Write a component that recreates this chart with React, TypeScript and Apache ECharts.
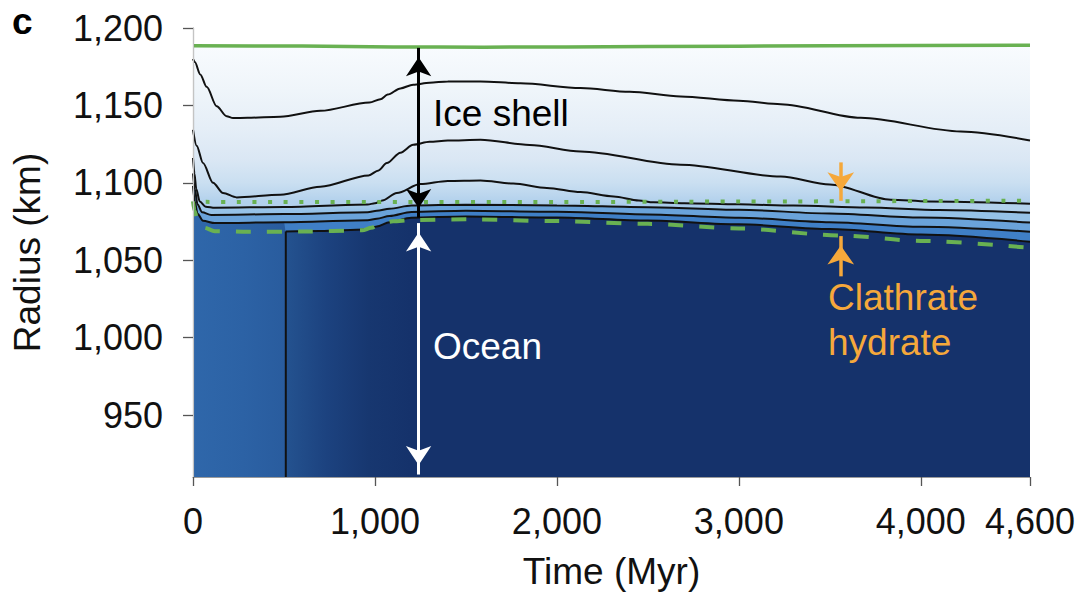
import React, { useEffect, useRef } from "react";
import * as echarts from "echarts";

type Pt = [number, number];

// ---- axes ----
const timeTicks = [0, 1000, 2000, 3000, 4000, 4600];
const radiusTicks = [950, 1000, 1050, 1100, 1150, 1200];
const timeRange: Pt = [0, 4600];
const radiusRange: Pt = [910, 1200];

// ---- model output: [time (Myr), radius (km)] ----
const surfaceRadius: Pt[] = [
  [0, 1188.6], [600, 1188.3], [1100, 1187.7], [1600, 1187.6], [2500, 1188.0],
  [3500, 1188.5], [4600, 1188.9],
];

// isotherms in the ice shell, outermost first
const isotherm1: Pt[] = [
  [0, 1180], [10, 1178], [40, 1170], [75, 1162], [130, 1149.5], [185, 1143],
  [220, 1141.8], [300, 1142], [480, 1142.7], [700, 1146.5], [970, 1151.9],
  [1030, 1154], [1070, 1157], [1140, 1161], [1210, 1163.4], [1300, 1164.7],
  [1400, 1165.4], [1580, 1165.5], [1800, 1164.3], [2130, 1161.2], [2400, 1158.8],
  [2680, 1155.8], [3000, 1153], [3230, 1150.8], [3670, 1142], [4220, 1133.2],
  [4600, 1127.4],
];
const isotherm2: Pt[] = [
  [0, 1134.3], [20, 1124], [55, 1112.8], [110, 1100], [165, 1093.4], [240, 1090.6],
  [480, 1092.3], [700, 1097.5], [965, 1104.8], [1020, 1108], [1065, 1112.8],
  [1140, 1119.5], [1210, 1124.6], [1300, 1126.5], [1400, 1127.3], [1580, 1127.8],
  [1850, 1124.5], [2130, 1120.3], [2680, 1111.7], [3230, 1104.1], [3500, 1099],
  [3835, 1089.1], [4040, 1088], [4600, 1086.5],
];
const isotherm3: Pt[] = [
  [0, 1116], [8, 1106], [18, 1096], [37, 1088], [70, 1084.6], [120, 1083.9],
  [500, 1084.4], [960, 1086], [1000, 1086.8], [1040, 1088.6], [1120, 1093.4],
  [1250, 1099.2], [1400, 1101.2], [1580, 1101.5], [1760, 1099.5], [1945, 1096.6],
  [2130, 1094], [2312, 1091.2], [2450, 1088.6], [2530, 1087.4], [2700, 1086.8],
  [3000, 1086.1], [3300, 1085.3], [3700, 1084], [4100, 1082.4], [4600, 1080.6],
];
const isotherm4: Pt[] = [
  [0, 1106], [10, 1096], [25, 1086], [50, 1081], [100, 1079.3], [500, 1079.8],
  [960, 1081], [1010, 1081.9], [1080, 1083.3], [1200, 1085.3], [1500, 1085.9],
  [2000, 1085.4], [2500, 1084.3], [3000, 1082.6], [3500, 1080.2], [4000, 1077.6],
  [4600, 1074.3],
];
const isotherm5: Pt[] = [
  [0, 1098], [10, 1088], [25, 1080], [55, 1075.5], [120, 1074], [500, 1074.5],
  [960, 1075.8], [1010, 1076.8], [1080, 1078.6], [1200, 1081.2], [1500, 1082],
  [2000, 1081.3], [2500, 1079.6], [3000, 1077.4], [3500, 1074.6], [4000, 1071.6],
  [4600, 1068.4],
];
// ice / ocean interface, appearing at 510 Myr
const oceanOnset = 510;
const oceanContourFoot: Pt[] = [[510, 910], [510, 1068.6]];
const oceanInterface: Pt[] = [
  [510, 1068.6], [700, 1068.9], [950, 1069.8], [1010, 1071.8], [1080, 1074.6],
  [1200, 1077.5], [1500, 1078.3], [2000, 1077.6], [2500, 1075.6], [3000, 1073.2],
  [3500, 1070.2], [4000, 1066.6], [4600, 1062],
];

// clathrate hydrate layer bounds
const clathrateTop: Pt[] = [
  [70, 1087.7], [1000, 1087.6], [2000, 1087.6], [3000, 1087.9], [4000, 1088.2],
  [4600, 1088.5],
];
const clathrateBase: Pt[] = [
  [0, 1088], [8, 1082], [25, 1076], [60, 1071], [120, 1068.8], [300, 1068.4],
  [600, 1068.5], [930, 1069.3], [980, 1071], [1030, 1073.5], [1100, 1075.2],
  [1200, 1075.9], [1500, 1076.4], [2000, 1075.3], [2500, 1073.5], [3000, 1070.5],
  [3560, 1066], [4000, 1062.5], [4600, 1058],
];

// annotation arrows: [from, to]
const shellArrow: Pt[] = [[1240, 1187.2], [1240, 1077.6]];
const oceanArrow: Pt[] = [[1240, 1074], [1240, 911.6]];
const clathrateTopArrow: Pt[] = [[3560, 1113.2], [3560, 1088.4]];
const clathrateBaseArrow: Pt[] = [[3560, 1039.6], [3560, 1065.6]];

// ---- styling ----
const FONT = '"Liberation Sans", Arial, Helvetica, sans-serif';
const INK = "#111111";
const GREEN = "#69b152";
const ORANGE = "#f5a83b";
const W = 1088;
const H = 598;
const GRID = { left: 193, right: 58, top: 28, bottom: 121 };

const fmt = (v: number) => Math.round(v).toLocaleString("en-US");

// vertical gradient pinned to radius values (user-space coordinates)
function radialShade(stops: [number, string][]) {
  const span = radiusRange[1] - radiusRange[0];
  return {
    type: "linear",
    x: 0,
    y: GRID.top,
    x2: 0,
    y2: H - GRID.bottom,
    global: true,
    colorStops: stops.map(([v, c]) => ({
      offset: Math.min(1, Math.max(0, (radiusRange[1] - v) / span)),
      color: c,
    })),
  };
}

const iceShade = radialShade([
  [1200, "#ffffff"],
  [1188, "#f8fbfe"],
  [1160, "#eff5fa"],
  [1135, "#e5eef7"],
  [1115, "#dae7f4"],
  [1100, "#cadff1"],
  [1092, "#bbd6ee"],
  [1088, "#b2d1ec"],
  [910, "#b2d1ec"],
]);
const warmIceShade = radialShade([
  [1200, "#ffffff"],
  [1188, "#f8fbfe"],
  [1160, "#eff5fa"],
  [1135, "#e5eef7"],
  [1115, "#dae7f4"],
  [1100, "#cadff1"],
  [1092, "#bbd6ee"],
  [1088, "#b2d1ec"],
  [1086, "#abcdeb"],
  [1082, "#96c2e7"],
  [910, "#96c2e7"],
]);
const oceanShade = {
  type: "linear",
  x: 0,
  y: 0,
  x2: 1,
  y2: 0,
  colorStops: [
    { offset: 0, color: "#2f67aa" },
    { offset: 0.06, color: "#2c62a5" },
    { offset: 0.11, color: "#295c9e" },
    { offset: 0.112, color: "#24528f" },
    { offset: 0.16, color: "#1c427f" },
    { offset: 0.21, color: "#173770" },
    { offset: 0.26, color: "#15326b" },
    { offset: 1, color: "#15326b" },
  ],
};

const oceanTop: Pt[] = isotherm5
  .filter((p) => p[0] < oceanOnset)
  .concat(oceanInterface);

const base = {
  type: "line",
  symbol: "none",
  showSymbol: false,
  silent: true,
  smooth: 0.3,
  smoothMonotone: "x",
  emphasis: { disabled: true },
};

const fill = (name: string, data: Pt[], color: any) => ({
  ...base,
  name,
  data,
  lineStyle: { width: 0, opacity: 0 },
  areaStyle: { color, opacity: 1, origin: "start" },
});

const curve = (name: string, data: Pt[], lineStyle: any, smooth: any = 0.3) => ({
  ...base,
  name,
  data,
  smooth,
  lineStyle,
});

// arrow heads sit with their tips on the end coordinates
const arrow = (
  name: string,
  pts: Pt[],
  color: string,
  width: number,
  both: boolean,
  size: [number, number]
) => {
  const head = { symbolSize: size, symbolOffset: [0, size[1] / 2] };
  return {
    name,
    type: "line",
    data: [],
    silent: true,
    color,
    markLine: {
      silent: true,
      animation: false,
      symbol: both ? ["arrow", "arrow"] : ["none", "arrow"],
      label: { show: false },
      emphasis: { disabled: true },
      itemStyle: { color },
      lineStyle: { color, width, type: "solid", opacity: 1 },
      data: [[{ coord: pts[0], ...head }, { coord: pts[1], ...head }]],
    },
  };
};

const black = { color: INK, width: 2 };

export default function App() {
  const ref = useRef<HTMLDivElement>(null);

  useEffect(() => {
    if (!ref.current) return;
    const chart = echarts.init(ref.current, undefined, { renderer: "svg" });

    const label = (
      text: string,
      left: number,
      top: number,
      size: number,
      color: string,
      bold = false
    ) => ({
      type: "text",
      left,
      top,
      silent: true,
      z: 100,
      style: {
        text,
        fill: color,
        fontSize: size,
        fontFamily: FONT,
        fontWeight: bold ? "bold" : "normal",
      },
    });

    chart.setOption({
      animation: false,
      backgroundColor: "#ffffff",
      grid: { ...GRID, containLabel: false },
      xAxis: {
        type: "value",
        min: timeRange[0],
        max: timeRange[1],
        z: 10,
        axisLine: { show: true, onZero: false, lineStyle: { color: "#9b9b9b", width: 1.2 } },
        axisTick: {
          show: true,
          customValues: timeTicks,
          length: 9,
          lineStyle: { color: "#555555", width: 1.3 },
        },
        axisLabel: {
          customValues: timeTicks,
          formatter: fmt,
          fontSize: 36,
          color: INK,
          fontFamily: FONT,
          margin: 26,
        },
        splitLine: { show: false },
        name: "Time (Myr)",
        nameLocation: "middle",
        nameGap: 76,
        nameTextStyle: { fontSize: 37, color: INK, fontFamily: FONT },
      },
      yAxis: [
        {
          type: "value",
          min: radiusRange[0],
          max: radiusRange[1],
          z: 10,
          axisLine: { show: true, onZero: false, lineStyle: { color: "#8f8f8f", width: 1.2 } },
          axisTick: {
            show: true,
            customValues: radiusTicks,
            length: 10,
            lineStyle: { color: "#555555", width: 1.3 },
          },
          axisLabel: {
            customValues: radiusTicks,
            formatter: fmt,
            fontSize: 36,
            color: INK,
            fontFamily: FONT,
            margin: 30,
            padding: [3, 0, 0, 0],
          },
          splitLine: { show: false },
          name: "Radius (km)",
          nameLocation: "middle",
          nameGap: 147,
          nameTextStyle: { fontSize: 37, color: INK, fontFamily: FONT },
        },
        {
          type: "value",
          min: radiusRange[0],
          max: radiusRange[1],
          position: "right",
          z: 10,
          axisLine: { show: true, lineStyle: { color: "#c4c4c4", width: 1 } },
          axisTick: { show: false },
          axisLabel: { show: false },
          splitLine: { show: false },
        },
      ],
      series: [
        // shaded layers, painted from the surface inwards
        fill("ice", surfaceRadius, iceShade),
        fill("warm ice", isotherm3, warmIceShade),
        fill("band 4", isotherm4, "#6aa3da"),
        fill("band 5", isotherm5, "#3f7fc6"),
        fill("ocean", oceanTop, oceanShade),
        // isotherms
        curve("isotherm 1", isotherm1, black),
        curve("isotherm 2", isotherm2, black),
        curve("isotherm 3", isotherm3, black),
        curve("isotherm 4", isotherm4, black),
        curve("isotherm 5", isotherm5, black),
        curve("ocean interface", oceanInterface, black),
        curve("ocean onset", oceanContourFoot, black, false),
        // surface and clathrate bounds
        curve("surface", surfaceRadius, { color: GREEN, width: 3.5 }),
        curve("clathrate top", clathrateTop, {
          color: GREEN,
          width: 4,
          type: [4, 11.6],
          cap: "butt",
        }),
        curve("clathrate base", clathrateBase, {
          color: GREEN,
          width: 4,
          type: [15, 16],
          cap: "butt",
        }),
        // annotation arrows
        arrow("shell arrow", shellArrow, "#000000", 3, true, [19, 19]),
        arrow("ocean arrow", oceanArrow, "#ffffff", 3, true, [19, 19]),
        arrow("clathrate top arrow", clathrateTopArrow, ORANGE, 3.5, false, [20, 19]),
        arrow("clathrate base arrow", clathrateBaseArrow, ORANGE, 3.5, false, [20, 19]),
      ],
      graphic: [
        label("c", 12, 3, 37, "#000000", true),
        label("Ice shell", 433, 95, 37, "#000000"),
        label("Ocean", 433, 328, 37, "#ffffff"),
        label("Clathrate", 828, 279, 37, ORANGE),
        label("hydrate", 828, 324, 37, ORANGE),
      ],
    });

    return () => chart.dispose();
  }, []);

  return (
    <div
      ref={ref}
      style={{ position: "absolute", left: 0, top: 0, width: W, height: H, background: "#fff" }}
    />
  );
}
